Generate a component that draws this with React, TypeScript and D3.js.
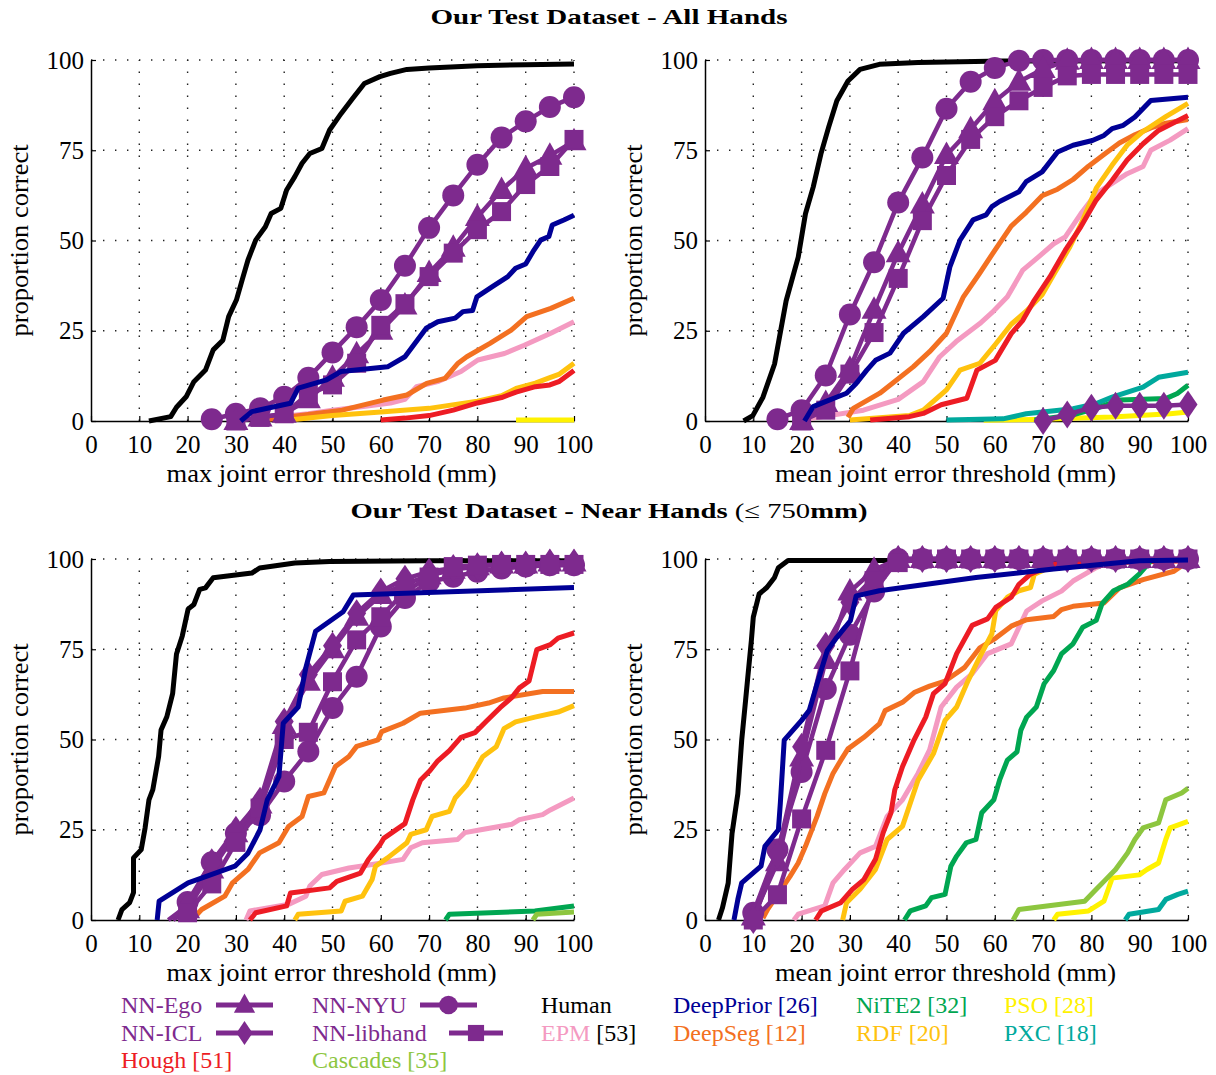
// Proportion-correct curves for hand pose estimators (4 panels + legend)
import React, { useEffect, useRef } from 'react';
import * as d3 from 'd3';

type Pt = [number, number];

// ---------- Panel 1: All Hands, max joint error ----------
const allMaxHuman: Pt[] = [[12,0],[16.5,1.2],[17.7,3.8],[19.7,6.7],[21.3,10.9],[23.7,14.1],[25.3,19.7],[27.3,22.4],[28.5,28.9],[30.1,33.5],[31.3,39.1],[32.5,44.6],[34.1,50.1],[36.1,53.8],[37.3,57.5],[39.3,58.9],[40.5,64],[42.2,67.7],[43.7,71.4],[45.3,74.1],[47.8,75.5],[49.4,80.6],[51.8,85.2],[54.2,89.4],[56.6,93.5],[59.8,95.4],[62,96.3],[65.4,97.4],[70,97.8],[80,98.4],[90,98.7],[100,98.9]];
const allMaxNyu: Pt[] = [[25,0.5],[30,2],[35,3.5],[40,6.7],[45,12],[50,19],[55,26],[60,33.5],[65,43],[70,53.5],[75,62.5],[80,71],[85,78.5],[90,83],[95,87],[100,89.7]];
const allMaxEgo: Pt[] = [[30,0],[35,1],[40,2],[45,6],[50,12],[55,18.5],[60,25],[65,32],[70,41],[75,48],[80,56.5],[85,64],[90,70],[95,73.5],[100,77.5]];
const allMaxLibhand: Pt[] = [[30,0],[35,1],[40,2],[45,7.5],[50,10],[55,16],[60,26.5],[65,32.5],[70,40],[75,46.5],[80,53],[85,58],[90,65.5],[95,70.5],[100,78]];
const allMaxDeepPrior: Pt[] = [[31,0],[33.3,2.6],[41.3,4.9],[42.9,9.1],[48.6,11.3],[51.8,13.7],[61.4,15],[65,17.8],[69.4,25.7],[71.8,27.5],[75.4,28.5],[77,30.3],[79,30.6],[79.9,34.4],[83.1,37.2],[86.3,40],[87.9,42.3],[90,43.5],[91.5,46.9],[93.1,50.1],[94.8,51.1],[95.5,54.3],[97.9,55.7],[100,57]];
const allMaxDeepSeg: Pt[] = [[36.9,0.5],[45,1.8],[52,3],[60.5,5.8],[65.4,7.2],[69.5,10.4],[73.3,11.8],[76,16],[77.8,17.8],[82.6,21.5],[87,25.2],[90.2,28.9],[95.2,31.2],[100,34]];
const allMaxEpm: Pt[] = [[37.3,1],[45,2],[50,3],[56.4,4],[62,5],[65,6],[67.4,9.5],[72,11],[76.6,13.7],[80.1,16.9],[85.6,18.7],[89.7,21],[95.2,24.3],[100,27.5]];
const allMaxRdf: Pt[] = [[41,0.3],[50,1.5],[60,2.5],[70,3.5],[80,5.5],[85,7],[88,9],[92,10.5],[95,12],[97,13],[100,16]];
const allMaxHough: Pt[] = [[60,0.3],[65,0.8],[70,1.5],[75,3],[80,5],[85,6.5],[88,8],[92,9.5],[95,10],[97,11],[100,14]];
const allMaxPso: Pt[] = [[88,0.3],[100,0.3]];

// ---------- Panel 2: All Hands, mean joint error ----------
const allMeanHuman: Pt[] = [[8,0],[9.9,1.5],[12,6.6],[14.4,15.8],[16.8,33.3],[19.3,45.4],[20.8,57.4],[22.4,64.8],[24,74],[25.6,81.4],[27.3,88.7],[29.6,94.2],[32.1,97.4],[36.1,98.8],[44.1,99.3],[61.7,99.7],[100,99.8]];
const allMeanNyu: Pt[] = [[15,0.5],[20,3],[25,12.6],[30,29.5],[35,44],[40,60.5],[45,73],[50,86.5],[55,94],[60,97.8],[65,99.8],[70,100],[75,100],[80,100],[85,100],[90,100],[95,100],[100,100]];
const allMeanEgo: Pt[] = [[20,0],[25,5],[30,14.5],[35,30.8],[40,46.5],[45,60],[50,73.7],[55,80.8],[60,88.6],[65,94],[70,97.5],[75,99.8],[80,100],[85,100],[90,100],[95,100],[100,100]];
const allMeanLibhand: Pt[] = [[20,0],[25,3],[30,13],[35,24.5],[40,39.5],[45,55.5],[50,68],[55,78],[60,84.3],[65,88.7],[70,92.4],[75,95.6],[80,96],[85,96],[90,96],[95,96],[100,96]];
const allMeanIcl: Pt[] = [[70,0],[75,1.8],[80,3.7],[85,4.2],[90,4.2],[95,4.2],[100,4.6]];
const allMeanDeepPrior: Pt[] = [[20.6,0],[22.4,4],[24.8,5.3],[29.3,7.7],[31.3,10.4],[33.5,14.1],[35.3,16.8],[38.3,18.8],[41.1,24.3],[45.2,28.9],[49.3,34],[50.7,42.7],[52.8,50.1],[55.5,55.7],[58.2,57.1],[59.4,59.4],[61,60.8],[65,63.5],[66.5,66.3],[69.8,69],[73,74.5],[76.2,76.4],[80.2,77.7],[82.6,79.1],[84.3,81],[86.6,81.9],[89,84.2],[92.3,88.8],[100,89.7]];
const allMeanDeepSeg: Pt[] = [[29.6,1],[30.7,3.5],[36.2,7.7],[43.1,15],[46.5,19.2],[50,24.3],[53.5,34.4],[56.9,41],[60.1,47.5],[63.4,54],[66.5,57.8],[69.8,62.4],[73,64.2],[76.2,66.9],[79.4,70.6],[82.6,73.8],[85.8,77],[89,79.3],[92.3,81.2],[95.4,82.5],[100,83.5]];
const allMeanEpm: Pt[] = [[20,0.3],[22.4,0.8],[32.8,3],[40,6],[45.2,10.9],[48.6,17.8],[52,22],[56.9,27],[59.4,30],[62.6,34.4],[65.8,41.8],[69,45.4],[72.2,49.1],[74.6,51],[77.8,57.4],[81,63],[84.3,65.8],[87.4,68.5],[90.7,70.5],[92.3,75],[96.3,77.8],[100,81]];
const allMeanRdf: Pt[] = [[30,0.3],[42.3,1.5],[45.2,3],[50,8.6],[52.8,14.1],[56.9,16],[60.1,21.2],[63.4,26.8],[66.5,30.4],[69.8,35],[72.2,40.6],[75.4,47.9],[77.8,54.4],[81,64.5],[84.3,70.9],[87.4,76.4],[90.7,80.2],[95.4,84.3],[100,88]];
const allMeanHough: Pt[] = [[34.2,0.3],[42.3,1.2],[45.2,2.1],[48.9,4.5],[54.2,6.3],[56.3,14.1],[60.1,16.8],[63.4,24.2],[65.8,27.9],[68.2,33.5],[71.4,39.9],[74.6,47.3],[77.8,53.8],[81,61.2],[84.3,66.7],[87.4,72.3],[90.7,76.8],[93.9,80.5],[100,84.6]];
const allMeanPxc: Pt[] = [[50,0.3],[61.7,0.6],[66.5,2],[76.2,3.4],[81,4.8],[84.3,6.6],[90.7,9.4],[93.9,12.1],[100,13.5]];
const allMeanNite2: Pt[] = [[68.2,0.3],[76.2,1.7],[81,3.5],[85.8,5.8],[95.4,6.2],[97.8,7.6],[100,9.9]];
const allMeanPso: Pt[] = [[57.7,0.2],[68.2,0.4],[84.3,1.1],[96.3,2],[100,2.5]];

// ---------- Panel 3: Near Hands, max joint error ----------
const nearMaxHuman: Pt[] = [[5.6,0],[6.4,2.9],[8,4.8],[8.8,7.6],[8.8,17.2],[10.4,19.5],[11.2,25.5],[12,33.3],[12.8,36.1],[14,45.3],[14.5,52.6],[15.7,56.3],[16.9,62.7],[17.7,73.7],[18.9,78.7],[20.1,86.1],[21.3,87.4],[22.5,91.6],[23.7,92],[25.3,94.8],[33.3,96.1],[34.9,97.5],[42.2,98.9],[49.4,99.3],[69.4,99.5],[100,99.5]];
const nearMaxIcl: Pt[] = [[16,0],[20,4],[25,16],[30,25],[35,33],[40,55],[45,68],[50,76],[55,85],[60,91],[65,94.5],[70,96.5],[75,97.5],[80,98],[85,98.5],[90,98.5],[95,99],[100,99]];
const nearMaxEgo: Pt[] = [[17,0],[20,3],[25,14],[30,24],[35,32],[40,54],[45,66],[50,75],[55,84],[60,90],[65,93],[70,95.5],[75,97],[80,98],[85,98.5],[90,98.5],[95,99],[100,99]];
const nearMaxLibhand: Pt[] = [[18,0],[20,2],[25,10],[30,21.5],[35,31],[40,50],[45,52],[50,66],[55,77.6],[60,84],[65,91],[70,95],[75,97.9],[80,98.3],[85,98.5],[90,98.5],[95,98.5],[100,98.5]];
const nearMaxNyu: Pt[] = [[17,0],[20,5],[25,16],[30,24],[35,29],[40,38.4],[45,46.7],[50,58.7],[55,67.4],[60,81.3],[65,89.2],[70,93.7],[75,95.1],[80,96.5],[85,97.4],[90,97.9],[95,98.3],[100,98.3]];
const nearMaxDeepPrior: Pt[] = [[13.7,0],[14.1,5.2],[20.1,10.3],[29.8,14.9],[32.5,18.5],[35,25],[36.5,33.3],[38.9,39.7],[39.8,54.5],[42.9,59],[44.5,70],[46.5,80],[52.2,85.4],[54.3,90],[100,92.1]];
const nearMaxDeepSeg: Pt[] = [[20.9,0],[22.9,2.9],[27.7,6.6],[29.3,10.3],[32.5,14],[34.9,18.6],[38.9,21.4],[40.9,25.9],[43.7,28.7],[45,34.2],[48.2,35.2],[50.6,42.5],[53.4,45.3],[55,48.1],[59.4,49.9],[60.2,52.2],[64.6,54.5],[68.2,57.3],[77.4,58.7],[82.3,60.1],[85.5,61.5],[93.5,63.3],[100,63.3]];
const nearMaxHough: Pt[] = [[32.9,0],[34.1,2],[40.5,3.9],[41.3,7.5],[49.4,8.9],[50.9,10.7],[55.8,13],[57.4,16.7],[59.8,20.8],[60.6,22.6],[65,26.7],[66.6,33.2],[68.2,38.7],[70.2,41.4],[71.8,44.1],[74.2,46.9],[76.6,50.6],[79.5,51.9],[81.9,55.1],[84.7,58.8],[87.1,61.6],[88.7,64.3],[90.7,66.2],[92.3,74.9],[95.1,76.3],[96.7,78.1],[100,79.5]];
const nearMaxRdf: Pt[] = [[42.2,0],[42.9,1.6],[51.8,2.5],[52.6,5.2],[56.2,6.6],[58.2,11.2],[58.9,14.9],[61.4,17.2],[65.4,21.4],[66.2,23.7],[69.4,25],[70.6,28.7],[74.2,30.1],[75.4,33.8],[77.8,37.4],[79.9,42.4],[81.1,45.2],[83.9,48],[85.5,53],[87.9,54.9],[91.9,56.2],[96.7,57.6],[100,59.4]];
const nearMaxEpm: Pt[] = [[32.1,0],[32.9,2.5],[41,4.4],[44.5,6.6],[45.3,9.4],[47.8,12.6],[53.4,14.4],[58.2,15.4],[64.6,16.8],[66.2,20],[68.6,21.4],[75.9,22.3],[77.4,24.2],[80.7,25],[87.1,26.5],[88.7,27.8],[93.5,29.2],[95.1,30.5],[100,33.8]];
const nearMaxNite2: Pt[] = [[73.4,0],[74.2,1.6],[91.9,2.5],[100,3.9]];
const nearMaxCascades: Pt[] = [[91.5,0],[92.3,1.6],[100,2.2]];

// ---------- Panel 4: Near Hands, mean joint error ----------
const nearMeanHuman: Pt[] = [[2.8,0],[3.6,3.3],[4.8,10.2],[5.6,24],[6.8,35],[7.6,49.8],[8.4,60.8],[8.8,66.4],[9.6,77.4],[10,83.9],[11.2,90.3],[12.8,92.1],[14.4,94.9],[15.2,97.6],[17.2,99.6],[100,99.6]];
const nearMeanIcl: Pt[] = [[10,0],[15,18],[20,48],[25,76],[30,88],[35,95],[40,100],[45,100],[50,100],[55,100],[60,100],[65,100],[70,100],[75,100],[80,100],[85,100],[90,100],[95,100],[100,100]];
const nearMeanEgo: Pt[] = [[10,1],[15,16],[20,45],[25,72],[30,91],[35,97],[40,100],[45,100],[50,100],[55,100],[60,100],[65,100],[70,100],[75,100],[80,100],[85,100],[90,100],[95,100],[100,100]];
const nearMeanNyu: Pt[] = [[10,2],[15,19.5],[20,41],[25,64],[30,79],[35,91],[40,100],[45,100],[50,100],[55,100],[60,100],[65,100],[70,100],[75,100],[80,100],[85,100],[90,100],[95,100],[100,100]];
const nearMeanLibhand: Pt[] = [[10,0],[15,7],[20,28],[25,47],[30,69],[35,94],[40,99],[45,100],[50,100],[55,100],[60,100],[65,100],[70,100],[75,100],[80,100],[85,100],[90,100],[95,100],[100,100]];
const nearMeanDeepPrior: Pt[] = [[6,0],[6.8,5.7],[7.6,10.3],[11.6,14.9],[12.4,20.4],[15.2,25],[15.6,32.4],[16.4,49.8],[20,55.3],[21.6,58.1],[23.2,65.4],[25.3,74.6],[27.3,78.3],[30.1,82.9],[31.3,89.8],[36.1,91.2],[56.1,94.9],[72.2,97.2],[89.9,99.5],[100,99.7]];
const nearMeanDeepSeg: Pt[] = [[12,0.5],[13,3],[17.6,12.1],[19.3,15.8],[20.8,20.4],[23.2,28.7],[24.8,35],[26.5,40.6],[28.1,44.2],[29.6,47.4],[32.9,50.6],[36.1,54.3],[37.3,58],[40.9,60.3],[43.3,63],[46.5,64.8],[49.7,66.2],[53.7,69.9],[56.9,75.4],[60.2,78.1],[63.4,81.4],[66.6,83.2],[72.2,84.1],[73.8,86],[76.2,86.9],[82.6,87.8],[85.8,92],[90.7,94.3],[97.1,96.6],[100,99.3]];
const nearMeanHough: Pt[] = [[22.9,0],[24.1,2.5],[28.1,4.8],[30.5,8.5],[32.9,11.2],[35.3,16.8],[36.9,24.2],[38.5,29.7],[39.3,36.1],[40.9,42.5],[43.3,49.9],[45.7,56.2],[47.3,62.7],[49.7,65.5],[52.1,73.8],[55.3,81.6],[58.5,83.4],[60.2,86.6],[63.4,89.4],[65,93],[67.4,95.8],[72.2,98.6],[100,99.5]];
const nearMeanEpm: Pt[] = [[18.4,0],[19.3,1.6],[24.8,3.9],[26.5,10.3],[28.9,14],[32.1,18.6],[35.3,20.4],[37.7,28.7],[40.9,33.3],[44.1,40.6],[46.5,47.1],[48.9,59],[52.1,64.5],[55.3,68.2],[58.5,73.8],[63.4,76.5],[66.6,85.6],[69.8,88.4],[73.8,91.1],[76.2,93.9],[81,97.6],[84.3,99.5],[100,100]];
const nearMeanRdf: Pt[] = [[28.5,0],[29.3,4.8],[32.1,8.5],[35.3,14],[37.7,22.3],[40.9,26],[44.1,38.7],[47.3,46.1],[49.7,55.3],[52.1,59],[54.5,66.4],[56.9,72.9],[59.4,79.3],[60.2,85.7],[62.6,89.4],[65,91.2],[67.4,92.1],[68.2,95.8],[73,98.6],[77.8,99.5],[100,100]];
const nearMeanNite2: Pt[] = [[41.3,0],[42.5,2.5],[45.7,3.9],[46.9,6.2],[49.7,7.1],[50.9,14.9],[52.1,17.7],[54.1,21.4],[56.1,22.3],[57.3,29.7],[59.8,33.3],[61,38.8],[62.6,44.3],[64.6,46.6],[65.4,52.6],[66.6,56.2],[68.6,59],[70.2,65.4],[72.2,69.1],[73.8,73.7],[76.2,76.5],[78.2,81.1],[81,83],[82.2,87.6],[84.6,91.2],[87.5,93],[89.9,95.8],[92.3,99.5],[100,100]];
const nearMeanCascades: Pt[] = [[63.8,0],[65,2.9],[78.6,5.2],[81,8.5],[82.6,10.7],[85,14],[87.5,18.6],[89,22.3],[90.7,25.5],[93.9,26.9],[95.4,33.3],[98.7,35.2],[100,36.5]];
const nearMeanPso: Pt[] = [[72.2,0],[73,1.6],[79.4,2.5],[82.6,5.2],[84.3,11.6],[89.9,12.5],[91.5,14],[93.9,15.8],[95.4,22.3],[96.3,25.5],[100,27.3]];
const nearMeanPxc: Pt[] = [[87,0],[87.8,1.6],[93.9,2.9],[95.4,5.7],[97.9,7.1],[100,8]];

const xTicks = [0, 10, 20, 30, 40, 50, 60, 70, 80, 90, 100];
const yTicks = [0, 25, 50, 75, 100];

type Key = 'human' | 'epm' | 'deepSeg' | 'rdf' | 'hough' | 'pso' | 'pxc' | 'nite2' | 'cascades' | 'nyu' | 'ego' | 'icl' | 'libhand' | 'deepPrior';

const colors: Record<Key, string> = {
  human: '#000000', epm: '#f49ac1', deepSeg: '#f37021', rdf: '#ffc20e', hough: '#ed1c24',
  pso: '#fff200', pxc: '#00a99d', nite2: '#00a651', cascades: '#8dc63f',
  nyu: '#7e2a8e', ego: '#7e2a8e', icl: '#7e2a8e', libhand: '#7e2a8e', deepPrior: '#000096',
};
const markerOf: Partial<Record<Key, string>> = { nyu: 'circle', ego: 'triangle', icl: 'diamond', libhand: 'square' };
const drawOrder: Key[] = ['human', 'epm', 'deepSeg', 'rdf', 'hough', 'pso', 'pxc', 'nite2', 'cascades', 'nyu', 'ego', 'icl', 'libhand', 'deepPrior'];

const panels = [
  { left: 91, top: 60, xLabel: 'max joint error threshold (mm)', xLabelLen: 330, series: { human: allMaxHuman, epm: allMaxEpm, deepSeg: allMaxDeepSeg, rdf: allMaxRdf, hough: allMaxHough, pso: allMaxPso, nyu: allMaxNyu, ego: allMaxEgo, libhand: allMaxLibhand, deepPrior: allMaxDeepPrior } },
  { left: 705, top: 60, xLabel: 'mean joint error threshold (mm)', xLabelLen: 341, series: { human: allMeanHuman, epm: allMeanEpm, deepSeg: allMeanDeepSeg, rdf: allMeanRdf, hough: allMeanHough, pso: allMeanPso, pxc: allMeanPxc, nite2: allMeanNite2, nyu: allMeanNyu, ego: allMeanEgo, icl: allMeanIcl, libhand: allMeanLibhand, deepPrior: allMeanDeepPrior } },
  { left: 91, top: 559, xLabel: 'max joint error threshold (mm)', xLabelLen: 330, series: { human: nearMaxHuman, epm: nearMaxEpm, deepSeg: nearMaxDeepSeg, rdf: nearMaxRdf, hough: nearMaxHough, nite2: nearMaxNite2, cascades: nearMaxCascades, nyu: nearMaxNyu, ego: nearMaxEgo, icl: nearMaxIcl, libhand: nearMaxLibhand, deepPrior: nearMaxDeepPrior } },
  { left: 705, top: 559, xLabel: 'mean joint error threshold (mm)', xLabelLen: 341, series: { human: nearMeanHuman, epm: nearMeanEpm, deepSeg: nearMeanDeepSeg, rdf: nearMeanRdf, hough: nearMeanHough, pso: nearMeanPso, pxc: nearMeanPxc, nite2: nearMeanNite2, cascades: nearMeanCascades, nyu: nearMeanNyu, ego: nearMeanEgo, icl: nearMeanIcl, libhand: nearMeanLibhand, deepPrior: nearMeanDeepPrior } },
];

// legend: [name, ref, key, ref in black?]
const legendRows: [string, string, Key, boolean][][] = [
  [['NN-Ego', '', 'ego', false], ['NN-NYU', '', 'nyu', false], ['Human', '', 'human', false], ['DeepPrior', '[26]', 'deepPrior', false], ['NiTE2', '[32]', 'nite2', false], ['PSO', '[28]', 'pso', false]],
  [['NN-ICL', '', 'icl', false], ['NN-libhand', '', 'libhand', false], ['EPM', '[53]', 'epm', true], ['DeepSeg', '[12]', 'deepSeg', false], ['RDF', '[20]', 'rdf', false], ['PXC', '[18]', 'pxc', false]],
  [['Hough', '[51]', 'hough', false], ['Cascades', '[35]', 'cascades', false]],
];

const FONT = '"Liberation Serif", "Times New Roman", serif';
const W = 483;
const H = 361;

function markerPath(kind: string, s = 1): string {
  if (kind === 'triangle') return `M0,${-13.5 * s}L${12.5 * s},${9 * s}L${-12.5 * s},${9 * s}Z`;
  if (kind === 'diamond') return `M0,${-14 * s}L${9.5 * s},0L0,${14 * s}L${-9.5 * s},0Z`;
  if (kind === 'square') return `M${-9.5 * s},${-9.5 * s}H${9.5 * s}V${9.5 * s}H${-9.5 * s}Z`;
  return d3.symbol(d3.symbolCircle, Math.PI * 11 * 11 * s * s)() as string;
}

const App: React.FC = () => {
  const ref = useRef<SVGSVGElement>(null);

  useEffect(() => {
    if (!ref.current) return;
    const svg = d3.select(ref.current);
    svg.selectAll('*').remove();

    svg.append('rect').attr('width', 1216).attr('height', 1075).attr('fill', '#fff');

    // Titles
    svg.append('text')
      .attr('x', 609).attr('y', 24)
      .attr('text-anchor', 'middle')
      .attr('textLength', 357).attr('lengthAdjust', 'spacingAndGlyphs')
      .style('font-family', FONT).style('font-size', '22px').style('font-weight', 'bold')
      .text('Our Test Dataset - All Hands');

    const t2 = svg.append('text')
      .attr('x', 609).attr('y', 518)
      .attr('text-anchor', 'middle')
      .attr('textLength', 517).attr('lengthAdjust', 'spacingAndGlyphs')
      .style('font-family', FONT).style('font-size', '22px');
    t2.append('tspan').style('font-weight', 'bold').text('Our Test Dataset - Near Hands ');
    t2.append('tspan').text('(≤ 750');
    t2.append('tspan').style('font-weight', 'bold').text('mm)');

    panels.forEach((p) => {
      const g = svg.append('g');
      const x = d3.scaleLinear().domain([0, 100]).range([p.left, p.left + W]);
      const y = d3.scaleLinear().domain([0, 100]).range([p.top + H, p.top]);

      // dotted grid
      xTicks.filter((t) => t > 0).forEach((t) => {
        g.append('line')
          .attr('x1', x(t)).attr('x2', x(t)).attr('y1', y(0)).attr('y2', y(100))
          .attr('stroke', '#222').attr('stroke-width', 1.4).attr('stroke-dasharray', '1.4,10.6');
      });
      yTicks.filter((t) => t > 0).forEach((t) => {
        g.append('line')
          .attr('x1', x(0)).attr('x2', x(100)).attr('y1', y(t)).attr('y2', y(t))
          .attr('stroke', '#222').attr('stroke-width', 1.4).attr('stroke-dasharray', '1.4,10.6');
      });

      // axes
      const xAxis = d3.axisBottom(x).tickValues(xTicks).tickSizeInner(-5).tickSizeOuter(0).tickPadding(14);
      const yAxis = d3.axisLeft(y).tickValues(yTicks).tickSizeInner(-5).tickSizeOuter(0).tickPadding(7);
      const gx = g.append('g').attr('transform', `translate(0,${y(0)})`).call(xAxis);
      const gy = g.append('g').attr('transform', `translate(${x(0)},0)`).call(yAxis);
      [gx, gy].forEach((ax) => {
        ax.select('.domain').attr('stroke', '#000').attr('stroke-width', 1.5);
        ax.selectAll('.tick line').attr('stroke', '#000').attr('stroke-width', 1.2);
        ax.selectAll('.tick text')
          .attr('fill', '#000')
          .style('font-family', FONT).style('font-size', '25px');
      });

      // axis labels
      g.append('text')
        .attr('x', x(50) - 1).attr('y', p.top + H + 61)
        .attr('text-anchor', 'middle')
        .attr('textLength', p.xLabelLen).attr('lengthAdjust', 'spacingAndGlyphs')
        .style('font-family', FONT).style('font-size', '25px')
        .text(p.xLabel);
      g.append('text')
        .attr('transform', `translate(${p.left - 63},${y(50)}) rotate(-90)`)
        .attr('text-anchor', 'middle')
        .attr('textLength', 192).attr('lengthAdjust', 'spacingAndGlyphs')
        .style('font-family', FONT).style('font-size', '25px')
        .text('proportion correct');

      // series
      const line = d3.line<Pt>().x((d) => x(d[0])).y((d) => y(d[1]));
      const series = p.series as Partial<Record<Key, Pt[]>>;
      drawOrder.forEach((k) => {
        const data = series[k];
        if (!data) return;
        const mk = markerOf[k];
        g.append('path')
          .datum(data)
          .attr('fill', 'none')
          .attr('stroke', colors[k])
          .attr('stroke-width', mk ? 4.5 : 5)
          .attr('stroke-linejoin', 'round')
          .attr('d', line);
        if (mk) {
          g.selectAll(null)
            .data(data.filter((d) => d[0] % 5 === 0))
            .enter()
            .append('path')
            .attr('transform', (d) => `translate(${x(d[0])},${y(d[1])})`)
            .attr('d', markerPath(mk))
            .attr('fill', colors[k]);
        }
      });
    });

    // legend
    const colX = [121, 312, 541, 673, 856, 1004];
    const rowY = [1013, 1041, 1068];
    const markerSpan: Record<string, [number, number]> = { ego: [216, 273], icl: [216, 273], nyu: [420, 477], libhand: [449, 503] };
    legendRows.forEach((row, ri) => {
      row.forEach(([name, ref2, key, blackRef], ci) => {
        const t = svg.append('text')
          .attr('x', colX[ci]).attr('y', rowY[ri])
          .style('font-family', FONT).style('font-size', '24px')
          .attr('fill', colors[key]);
        t.append('tspan').text(name);
        if (ref2) t.append('tspan').attr('fill', blackRef ? '#000' : colors[key]).text(' ' + ref2);
        const mk = markerOf[key];
        if (mk) {
          const [a, b] = markerSpan[key];
          const cy = rowY[ri] - 8;
          svg.append('line')
            .attr('x1', a).attr('x2', b).attr('y1', cy).attr('y2', cy)
            .attr('stroke', colors[key]).attr('stroke-width', 5);
          svg.append('path')
            .attr('transform', `translate(${(a + b) / 2},${cy})`)
            .attr('d', markerPath(mk, 0.85))
            .attr('fill', colors[key]);
        }
      });
    });
  }, []);

  return (
    <svg ref={ref} width={1216} height={1075} style={{ position: 'absolute', left: 0, top: 0 }} />
  );
};

export default App;
